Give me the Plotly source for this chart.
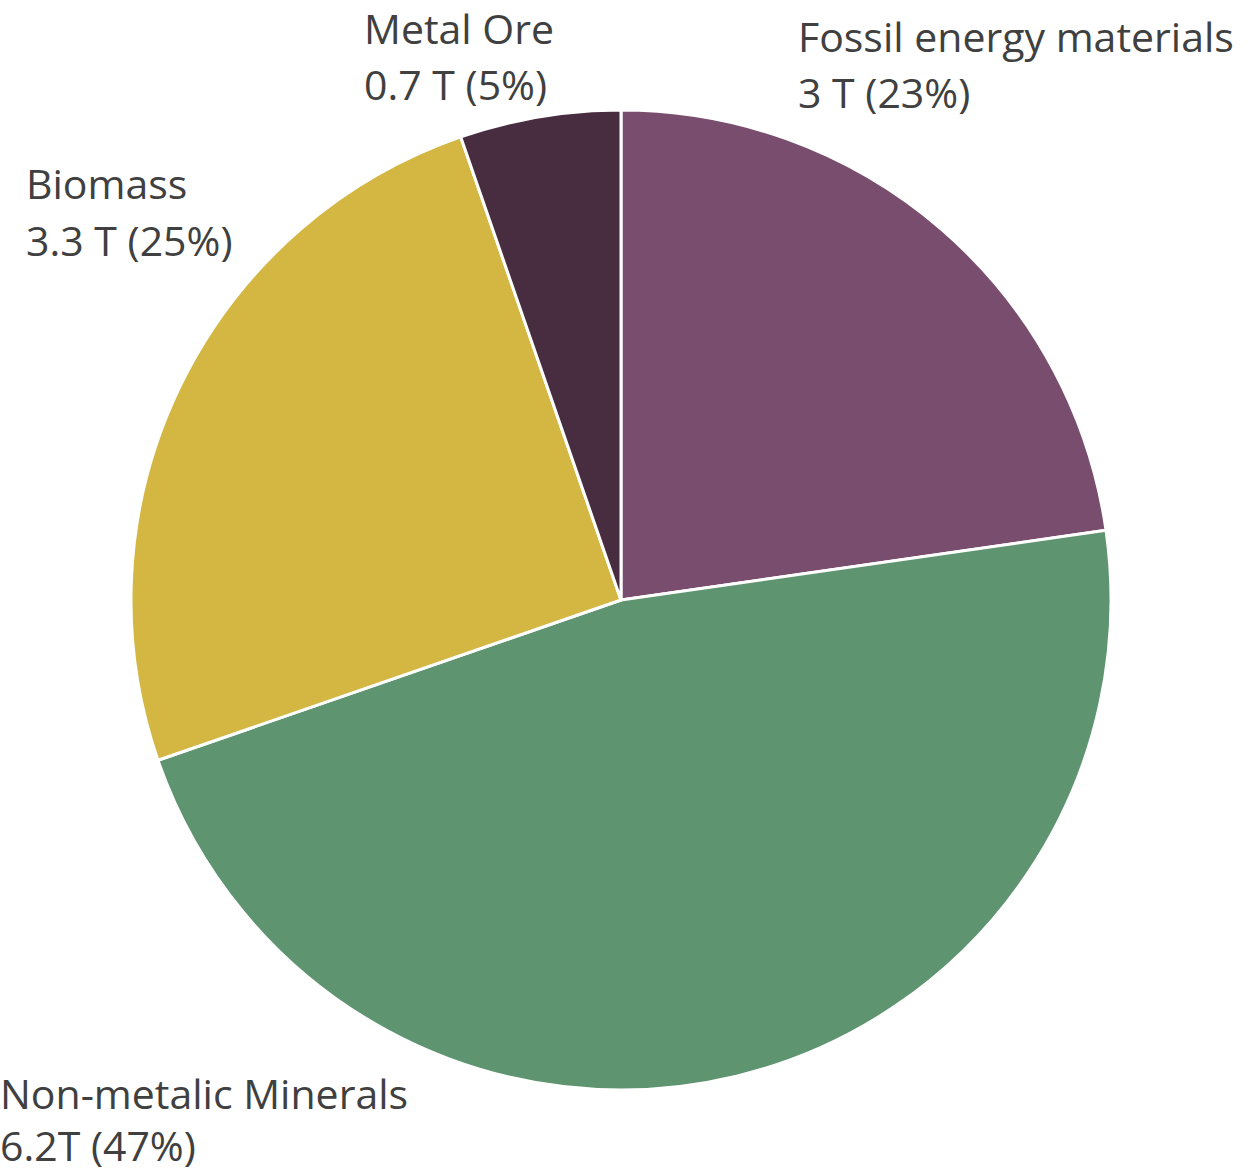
import plotly.graph_objects as go

categories = ["Fossil energy materials", "Non-metalic Minerals", "Biomass", "Metal Ore"]
values = [3.0, 6.2, 3.3, 0.7]
value_labels = ["3 T (23%)", "6.2T (47%)", "3.3 T (25%)", "0.7 T (5%)"]
colors = ["#794D6E", "#5F9471", "#D4B642", "#482D41"]

W, H = 1250, 1174

fig = go.Figure(go.Pie(
    labels=categories, values=values, sort=False, direction="clockwise", rotation=0,
    marker=dict(colors=colors, line=dict(color="white", width=3)),
    textinfo="none", hoverinfo="label+value+percent", showlegend=False,
    domain=dict(x=[131 / W, 1111 / W], y=[1 - 1090 / H, 1 - 110 / H]),
))

# label positions (pixels): left x, line1 center y, line2 center y
label_pos = [(796, 36, 92), (-2, 1093, 1145), (24, 183, 240), (362, 28, 84)]
font = dict(family="Open Sans, sans-serif", size=41, color="#404040")
for cat, vl, (x, y1, y2) in zip(categories, value_labels, label_pos):
    for txt, yy in ((cat, y1), (vl, y2)):
        fig.add_annotation(x=x / W, y=1 - yy / H, xref="paper", yref="paper",
                           text=txt, showarrow=False, xanchor="left", yanchor="middle",
                           font=font)

fig.update_layout(width=W, height=H, margin=dict(l=0, r=0, t=0, b=0),
                  paper_bgcolor="white", plot_bgcolor="white")
fig.write_html("out.html", config={"displayModeBar": False},
               post_script="document.body.style.margin='0';document.body.style.overflow='hidden';")
